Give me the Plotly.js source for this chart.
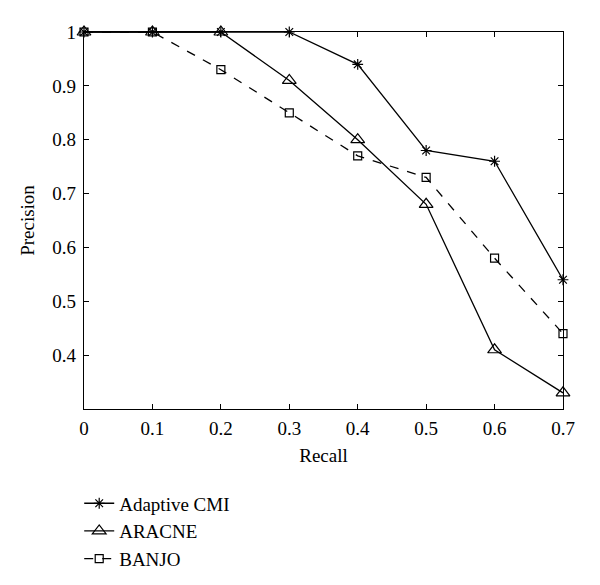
<!DOCTYPE html>
<html>
<head>
<meta charset="utf-8">
<script src="https://cdn.plot.ly/plotly-3.0.1.min.js"></script>
<style>
  html, body { margin: 0; padding: 0; background: #fff; }
  #chart { width: 600px; height: 585px; }
</style>
</head>
<body>
<div id="chart"></div>
<script>
// recall levels and precision of each method
const recall = [0, 0.1, 0.2, 0.3, 0.4, 0.5, 0.6, 0.7];
const adaptiveCMI = [1, 1, 1, 1, 0.94, 0.78, 0.76, 0.54];
const aracne = [1, 1, 1, 0.91, 0.80, 0.68, 0.41, 0.33];
const banjo = [1, 1, 0.93, 0.85, 0.77, 0.73, 0.58, 0.44];

const xTicks = [0, 0.1, 0.2, 0.3, 0.4, 0.5, 0.6, 0.7];
const xLabels = ['0', '0.1', '0.2', '0.3', '0.4', '0.5', '0.6', '0.7'];
const yTicks = [0.4, 0.5, 0.6, 0.7, 0.8, 0.9, 1];
const yLabels = ['0.4', '0.5', '0.6', '0.7', '0.8', '0.9', '1'];

const serif = 'Liberation Serif';

const series = (name, y, symbol, size, dash) => ({
  x: recall,
  y: y,
  name: name,
  type: 'scatter',
  mode: 'lines+markers',
  line: { color: '#000', width: 1.3, dash: dash },
  marker: { symbol: symbol, size: size, color: '#000', line: { color: '#000', width: 1.2 } },
  cliponaxis: false
});

const data = [
  series('Adaptive CMI', adaptiveCMI, 'asterisk-open', 9, 'solid'),
  series('ARACNE', aracne, 'triangle-up-open', 12, 'solid'),
  series('BANJO', banjo, 'square-open', 8, 'dash')
];

const axis = {
  showline: true,
  linecolor: '#000',
  linewidth: 1.3,
  mirror: 'ticks',
  ticks: 'inside',
  ticklen: 5,
  tickwidth: 1.2,
  tickcolor: '#000',
  showgrid: false,
  zeroline: false,
  automargin: false,
  tickfont: { family: serif, size: 19, color: '#000' }
};

const layout = {
  width: 600,
  height: 585,
  paper_bgcolor: '#fff',
  plot_bgcolor: '#fff',
  margin: { l: 84, r: 37, t: 32, b: 176, autoexpand: false },
  font: { family: serif, size: 19, color: '#000' },
  xaxis: Object.assign({}, axis, {
    range: [0, 0.7],
    tickvals: xTicks,
    ticktext: xLabels,
    ticklabelstandoff: 2,
    title: { text: 'Recall', font: { family: serif, size: 19 }, standoff: 10 }
  }),
  yaxis: Object.assign({}, axis, {
    range: [0.3, 1],
    tickvals: yTicks,
    ticktext: yLabels,
    ticklabelstandoff: 3,
    title: { text: 'Precision', font: { family: serif, size: 19 }, standoff: 12 }
  }),
  showlegend: true,
  legend: {
    x: -0.01,
    xanchor: 'left',
    y: -0.2,
    yanchor: 'top',
    orientation: 'v',
    itemwidth: 30,
    tracegroupgap: 0,
    font: { family: serif, size: 19, color: '#000' },
    bgcolor: 'rgba(0,0,0,0)'
  }
};

Plotly.newPlot('chart', data, layout, { displayModeBar: false, staticPlot: true });
</script>
</body>
</html>
